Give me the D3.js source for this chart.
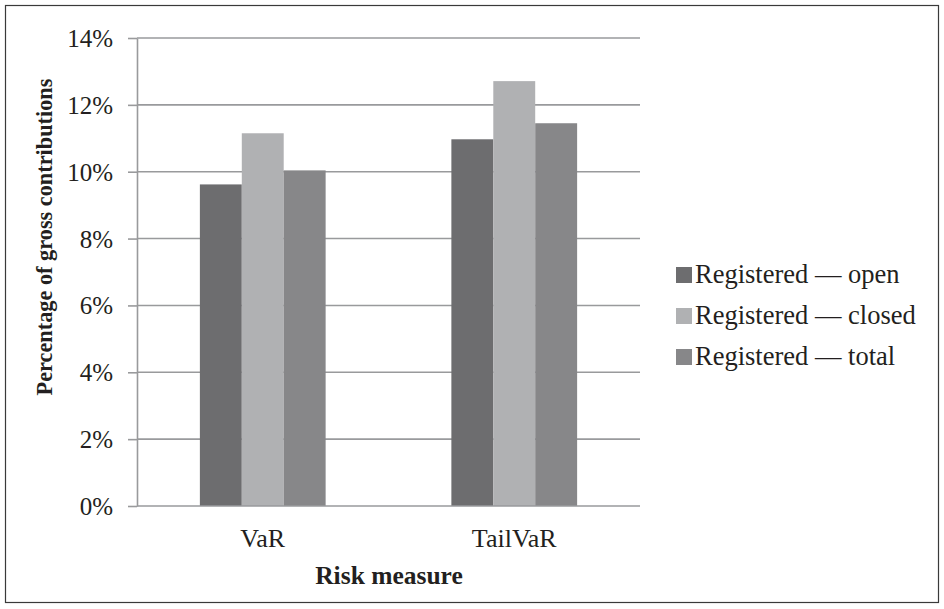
<!DOCTYPE html>
<html><head><meta charset="utf-8">
<script src="https://cdn.jsdelivr.net/npm/d3@7"></script>
<style>body{margin:0;background:#fff}svg{display:block}text{font-family:"Liberation Serif","Times New Roman",serif;fill:#231f20}</style>
</head><body><svg id="c" width="944" height="609"></svg>
<script>
const categories = ["VaR", "TailVaR"];
const seriesNames = ["Registered \u2014 open", "Registered \u2014 closed", "Registered \u2014 total"];
const openValues = [9.62, 10.97];
const closedValues = [11.15, 12.71];
const totalValues = [10.04, 11.45];
const yTicks = [0, 2, 4, 6, 8, 10, 12, 14];
const colors = ["#6d6d6f", "#b0b1b3", "#878789"];

const series = [openValues, closedValues, totalValues];
const svg = d3.select("#c");
svg.append("rect").attr("x", 5.5).attr("y", 5.5).attr("width", 933).attr("height", 597)
  .attr("fill", "none").attr("stroke", "#3a3a3a").attr("stroke-width", 1.2);

const m = {l: 137, r: 640, t: 38, b: 506};
const x = d3.scaleBand().domain(categories).range([m.l, m.r]).paddingInner(0.5).paddingOuter(0.25);
const xs = d3.scaleBand().domain(d3.range(series.length)).range([0, x.bandwidth()]);
const y = d3.scaleLinear().domain([0, 14]).range([m.b, m.t]);

// gridlines
svg.append("g").selectAll("line").data(yTicks.filter(d => d > 0)).join("line")
  .attr("x1", m.l).attr("x2", m.r).attr("y1", d => y(d)).attr("y2", d => y(d))
  .attr("stroke", "#999a9c").attr("stroke-width", 1.6);

// bars
const g = svg.append("g");
categories.forEach((c, ci) => {
  series.forEach((s, si) => {
    g.append("rect")
      .attr("x", x(c) + xs(si)).attr("width", xs.bandwidth())
      .attr("y", y(s[ci])).attr("height", y(0) - y(s[ci]))
      .attr("fill", colors[si]);
  });
});

// y axis
const ya = svg.append("g").attr("transform", `translate(${m.l},0)`)
  .call(d3.axisLeft(y).tickValues(yTicks).tickFormat(d => d + "%").tickSize(9).tickPadding(15).tickSizeOuter(0));
ya.select(".domain").attr("stroke", "#999a9c").attr("stroke-width", 1.6);
ya.selectAll(".tick line").attr("stroke", "#999a9c").attr("stroke-width", 1.6);
ya.selectAll(".tick text").attr("font-size", 25).attr("font-family", "Liberation Serif").attr("fill", "#231f20").attr("dy", "0.34em");

// x axis baseline
svg.append("line").attr("x1", m.l).attr("x2", m.r).attr("y1", y(0)).attr("y2", y(0))
  .attr("stroke", "#999a9c").attr("stroke-width", 1.6);
const xa = svg.append("g").attr("transform", `translate(0,${m.b})`)
  .call(d3.axisBottom(x).tickSize(0).tickPadding(0));
xa.select(".domain").remove();
xa.selectAll(".tick text").attr("font-size", 26).attr("font-family", "Liberation Serif").attr("fill", "#231f20")
  .attr("dy", null).attr("y", 41);

// axis titles
svg.append("text").attr("x", 389).attr("y", 584).attr("text-anchor", "middle")
  .attr("font-size", 25.5).attr("font-weight", "bold").text("Risk measure");
svg.append("text").attr("transform", "translate(52,237) rotate(-90)").attr("text-anchor", "middle")
  .attr("font-size", 22.3).attr("font-weight", "bold").text("Percentage of gross contributions");

// legend
const lg = svg.append("g").attr("transform", "translate(676,267)");
seriesNames.forEach((n, i) => {
  lg.append("rect").attr("x", 0).attr("y", i * 41).attr("width", 16).attr("height", 16).attr("fill", colors[i]);
  lg.append("text").attr("x", 19).attr("y", i * 41 + 16).attr("font-size", 26.5).text(n);
});
</script></body></html>
